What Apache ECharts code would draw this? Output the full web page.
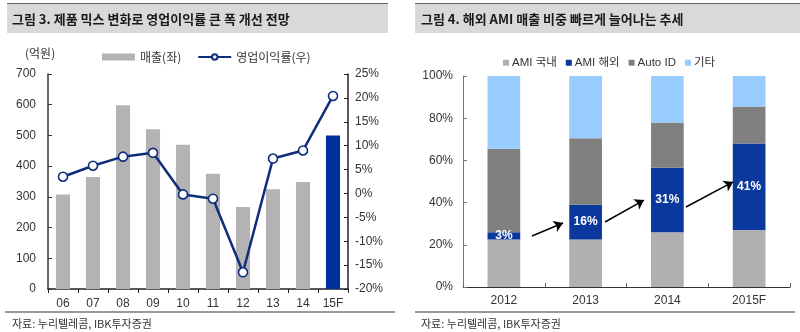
<!DOCTYPE html>
<html><head><meta charset="utf-8">
<script src="https://cdn.jsdelivr.net/npm/echarts@6/dist/echarts.min.js"></script>
<style>html,body{margin:0;padding:0;background:#fff}#c{width:800px;height:332px}</style>
</head><body><div id="c"></div>
<script>
// ---- Left chart data ----
const yearsL = ['06','07','08','09','10','11','12','13','14','15F'];
const sales = [308, 365, 598, 520, 470, 375, 267, 325, 348, 500];
const opMargin = [3.5, 5.8, 7.7, 8.5, -0.2, -1.1, -16.5, 7.3, 9.0, 20.4];
const forecastCategory = '15F';
const leftTicks = [0, 100, 200, 300, 400, 500, 600, 700];
// ---- Right chart data ----
const yearsR = ['2012','2013','2014','2015F'];
const amiDomestic = [22.5, 22.5, 26, 27];
const amiOverseas = [3.5, 16.5, 30.5, 41];
const autoId = [39.5, 31.5, 21.5, 17.5];
const others = [34.5, 29.5, 22, 14.5];
const overseasLabels = ['3%', '16%', '31%', '41%'];
// arrow annotations: [x0, y0, x1, y1] in (category-width units, %)
const arrows = [[0.844, 24.2, 1.223, 30.3],[1.737, 30.8, 2.214, 41.2],[2.728, 37.9, 3.303, 49.8]];

const FONT = '"Liberation Sans", Arial, "Noto Sans CJK KR", sans-serif';
const KFONT = '"Noto Sans CJK KR", sans-serif';
const chart = echarts.init(document.getElementById('c'), null, {renderer:'canvas'});
const navy = '#0f2d7d';
const option = {
  animation: false,
  textStyle: {fontFamily: FONT},
  graphic: [
    {type:'rect', shape:{x:7,y:4,width:381,height:29}, style:{fill:'#d9d9d9'}, silent:true},
    {type:'rect', shape:{x:415,y:4,width:385,height:29}, style:{fill:'#d9d9d9'}, silent:true},
    {type:'line', shape:{x1:7,y1:3.5,x2:388,y2:3.5}, style:{stroke:'#666',lineWidth:1}},
    {type:'line', shape:{x1:415,y1:3.5,x2:800,y2:3.5}, style:{stroke:'#666',lineWidth:1}},
    {type:'text', x:12, y:19, style:{text:'그림 3. 제품 믹스 변화로 영업이익률 큰 폭 개선 전망', font:'bold 13px '+KFONT, fill:'#1a1a1a', verticalAlign:'middle'}},
    {type:'text', x:421, y:19, style:{text:'그림 4. 해외 AMI 매출 비중 빠르게 늘어나는 추세', font:'bold 13px '+KFONT, fill:'#1a1a1a', verticalAlign:'middle'}},
    {type:'text', x:25, y:53, style:{text:'(억원)', font:'12px '+KFONT, fill:'#333', verticalAlign:'middle'}},
    {type:'line', shape:{x1:5,y1:312,x2:395,y2:312}, style:{stroke:'#9a9a9a',lineWidth:2}},
    {type:'line', shape:{x1:415,y1:312,x2:795,y2:312}, style:{stroke:'#9a9a9a',lineWidth:2}},
    {type:'text', x:12, y:324, style:{text:'자료: 누리텔레콤, IBK투자증권', font:'11px '+KFONT, fill:'#333', verticalAlign:'middle'}},
    {type:'text', x:421, y:324, style:{text:'자료: 누리텔레콤, IBK투자증권', font:'11px '+KFONT, fill:'#333', verticalAlign:'middle'}}
  ],
  legend: [
    {left: 97, top: 46, itemGap: 16, itemWidth: 33, itemHeight: 7,
     textStyle:{fontSize:12, color:'#333', fontFamily:KFONT},
     data:[{name:'매출(좌)', icon:'rect'}, {name:'영업이익률(우)'}]},
    {left: 498, top: 52, itemGap: 9, itemWidth: 6, itemHeight: 6, icon:'rect',
     textStyle:{fontSize:11.5, color:'#333', fontFamily:FONT, padding:[0,0,0,-2]},
     data:['AMI 국내','AMI 해외','Auto ID','기타']}
  ],
  grid: [
    {left: 48, right: 452, top: 74, bottom: 43},
    {left: 463, right: 10, top: 76, bottom: 45}
  ],
  xAxis: [
    {type:'category', gridIndex:0, data: yearsL,
     axisLine:{lineStyle:{color:'#222', width:1.5}},
     axisTick:{show:true, inside:false, length:4, lineStyle:{color:'#222'}},
     axisLabel:{color:'#333', fontSize:12, margin:9}},
    {type:'category', gridIndex:1, data: yearsR,
     axisLine:{lineStyle:{color:'#333', width:1}},
     axisTick:{show:true, inside:true, length:4, lineStyle:{color:'#666'}},
     axisLabel:{color:'#333', fontSize:12, margin:8}},
    {type:'value', gridIndex:1, min:0, max:4, show:false}
  ],
  yAxis: [
    {type:'value', gridIndex:0, min:0, max:700, interval:100,
     axisLine:{show:true, lineStyle:{color:'#333', width:1.5}},
     axisTick:{show:true, inside:true, length:4, lineStyle:{color:'#333'}},
     splitLine:{show:false},
     axisLabel:{color:'#333', fontSize:12, margin:12}},
    {type:'value', gridIndex:0, min:-20, max:25, interval:5, position:'right',
     axisLine:{show:true, lineStyle:{color:'#222', width:1.5}},
     axisTick:{show:true, inside:true, length:4, lineStyle:{color:'#222'}},
     splitLine:{show:false},
     axisLabel:{color:'#333', fontSize:12, margin:7, formatter:'{value}%'}},
    {type:'value', gridIndex:1, min:0, max:100, interval:20,
     axisLine:{show:true, lineStyle:{color:'#777', width:1}},
     axisTick:{show:true, inside:true, length:4, lineStyle:{color:'#777'}},
     splitLine:{show:false},
     axisLabel:{color:'#333', fontSize:12, margin:10, formatter:'{value}%'}}
  ],
  series: [
    {name:'매출(좌)', type:'bar', xAxisIndex:0, yAxisIndex:0, barWidth:'47%',
     itemStyle:{color:'#b3b3b3'},
     data: sales.map((v,i)=> yearsL[i]===forecastCategory ? {value:v, itemStyle:{color:'#00309a'}} : v)},
    {name:'영업이익률(우)', type:'line', xAxisIndex:0, yAxisIndex:1, data: opMargin,
     symbol:'circle', symbolSize:9, showAllSymbol:true,
     lineStyle:{color:navy, width:2.5},
     itemStyle:{color:'#fff', borderColor:navy, borderWidth:1.6}, z:5},
    {name:'AMI 국내', type:'bar', stack:'r', xAxisIndex:1, yAxisIndex:2, barWidth:'40%',
     itemStyle:{color:'#b0b0b0'}, data: amiDomestic},
    {name:'AMI 해외', type:'bar', stack:'r', xAxisIndex:1, yAxisIndex:2, barWidth:'40%',
     itemStyle:{color:'#0a389c'}, data: amiOverseas,
     label:{show:true, position:'inside', color:'#fff', fontWeight:'bold', fontSize:12,
       formatter: p => overseasLabels[p.dataIndex]}},
    {name:'Auto ID', type:'bar', stack:'r', xAxisIndex:1, yAxisIndex:2, barWidth:'40%',
     itemStyle:{color:'#808080'}, data: autoId},
    {name:'기타', type:'bar', stack:'r', xAxisIndex:1, yAxisIndex:2, barWidth:'40%',
     itemStyle:{color:'#99ccff'}, data: others},
    {name:'arrows', type:'lines', coordinateSystem:'cartesian2d', xAxisIndex:2, yAxisIndex:2,
     symbol:['none','arrow'], symbolSize:9, z:10, silent:true,
     lineStyle:{color:'#000', width:1.5, opacity:1},
     data: arrows.map(a => ({coords:[[a[0],a[1]],[a[2],a[3]]]}))}
  ]
};
chart.setOption(option);
</script></body></html>
